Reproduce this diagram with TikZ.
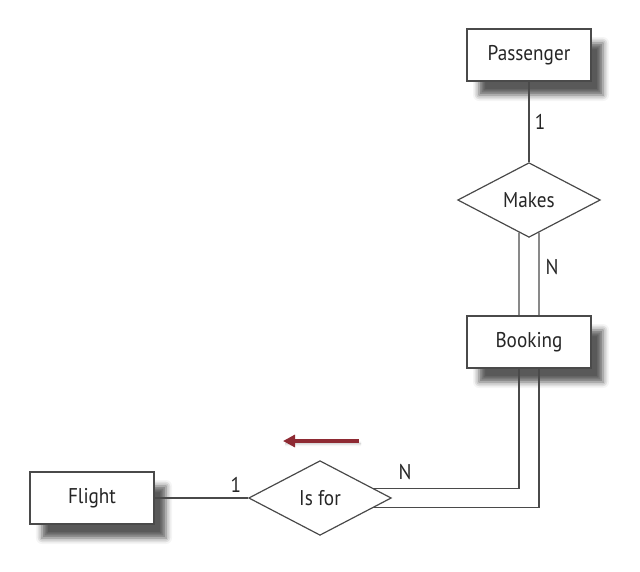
\documentclass[tikz,border=0pt]{standalone}
\usepackage{fontspec}
\setmainfont[FakeStretch=0.9]{PT Sans}
\usetikzlibrary{calc,shapes.geometric,arrows.meta,shadows.blur}
\definecolor{ln}{HTML}{4A4A4A}
\definecolor{arw}{HTML}{8E2A33}
\tikzset{ ent/.style = { rectangle % entity
, draw = ln
, line width = 0.9pt
, fill = white
, minimum width = 93pt
, minimum height = 39pt
, blur shadow = {shadow xshift=9pt, shadow yshift=-10.5pt, shadow blur radius=4.5pt, shadow opacity=65}
, font = \fontsize{16}{19}\selectfont\color{black!85}
}
, rel/.style = { diamond % relationship
, draw = ln
, line width = 0.9pt
, fill = white
, inner sep = 0pt
, minimum width = 107pt
, minimum height = 56pt
, font = \fontsize{16}{19}\selectfont\color{black!85}
}
, crd/.style = { inner sep = 1pt % cardinality
, font = \fontsize{16}{19}\selectfont\color{black!85}
}
, cn/.style = { draw = ln % connector
, line width = 0.9pt
}
}
\begin{document}
\begin{tikzpicture}[x=0.75pt, y=-0.75pt]
  \useasboundingbox (0,0) rectangle (640,572);
  \node[ent] (Passenger) at (529, 55) {Passenger};
  \node[rel] (Makes) at (529,200) {Makes};
  \node[ent] (Booking) at (529,342) {Booking};
  \node[ent] (Flight) at ( 92,498) {Flight};
  \node[rel] (Isfor) at (320,498) {Is for};
  \draw[cn] (Passenger) -- (Makes) node[crd, midway, right = 3pt] {1};
  \draw[cn] (Flight) -- (Isfor) node[crd, pos = 0.87, above = 3pt] {1};
  % double line Makes - Booking - Is for
  \draw[cn] ($(Makes.south)!0.14!(Makes.west)$) -- ([xshift=-7.5pt]Booking.north);
  \draw[cn] ($(Makes.south)!0.14!(Makes.east)$) -- ([xshift=7.5pt]Booking.north);
  \draw[cn] ([xshift=-7.5pt]Booking.south) |- ($(Isfor.east)!0.26!(Isfor.north)$);
  \draw[cn] ([xshift=7.5pt]Booking.south) |- ($(Isfor.east)!0.26!(Isfor.south)$);
  \node[crd] (nB) at (552,267) {N};
  \node[crd] (nI) at (405,472) {N};
  % direction of reading
  \coordinate (from) at (359,441);
  \coordinate (to) at (283,441);
  \draw[arw, line width = 3pt, -{Triangle[length=9pt, width=9pt]},
        blur shadow = {shadow xshift=1.5pt, shadow yshift=-2pt, shadow blur radius=2pt, shadow opacity=30}]
    (from) -- (to);
\end{tikzpicture}
\end{document}
